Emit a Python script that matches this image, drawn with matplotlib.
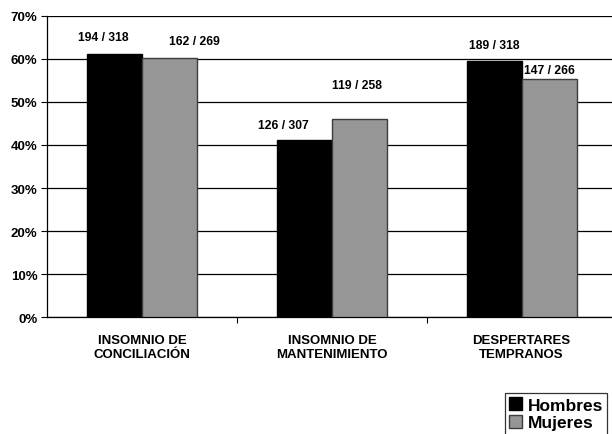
import matplotlib.pyplot as plt
import numpy as np

plt.rcParams['font.family'] = ['Liberation Sans', 'DejaVu Sans']

# Data
categories = ['INSOMNIO DE\nCONCILIACIÓN', 'INSOMNIO DE\nMANTENIMIENTO', 'DESPERTARES\nTEMPRANOS']
hombres_n = [194, 126, 189]
hombres_total = [318, 307, 318]
mujeres_n = [162, 119, 147]
mujeres_total = [269, 258, 266]
hombres_pct = [100 * n / t for n, t in zip(hombres_n, hombres_total)]
mujeres_pct = [100 * n / t for n, t in zip(mujeres_n, mujeres_total)]
yticks = [0, 10, 20, 30, 40, 50, 60, 70]

# label nudges (x in category units, y in %)
h_dx = [-0.06, -0.11, 0.0]
h_dy = [4.1, 3.7, 3.8]
m_dx = [0.13, -0.01, 0.0]
m_dy = [4.0, 7.8, 2.2]

fig = plt.figure(figsize=(6.12, 4.35), dpi=100)
fig.patch.set_facecolor('white')
ax = fig.add_axes([0.0773, 0.2683, 0.930, 0.6933])

x = np.arange(len(categories))
w = 0.29
b1 = ax.bar(x - w / 2, hombres_pct, w, color='#000000', edgecolor='#000000', linewidth=1, label='Hombres', zorder=3)
b2 = ax.bar(x + w / 2, mujeres_pct, w, color='#969696', edgecolor='#3c3c3c', linewidth=1, label='Mujeres', zorder=3)

for i in range(len(categories)):
    ax.text(x[i] - w / 2 + h_dx[i], hombres_pct[i] + h_dy[i], f'{hombres_n[i]} / {hombres_total[i]}',
            ha='center', va='center', fontsize=8.7, fontweight='bold')
    ax.text(x[i] + w / 2 + m_dx[i], mujeres_pct[i] + m_dy[i], f'{mujeres_n[i]} / {mujeres_total[i]}',
            ha='center', va='center', fontsize=8.7, fontweight='bold')

ax.set_xlim(-0.5, 2.5)
ax.set_ylim(0, 70)
ax.set_yticks(yticks)
ax.set_yticklabels([f'{t}%' for t in yticks], fontsize=9.5, fontweight='bold')
ax.yaxis.grid(True, color='#000000', linewidth=0.9, zorder=0)
ax.set_axisbelow(True)

ax.set_xticks(x)
ax.set_xticklabels(categories, fontsize=9.5, fontweight='bold', linespacing=1.2)
ax.tick_params(axis='x', length=0, pad=12)
ax.set_xticks([0.5, 1.5], minor=True)
ax.tick_params(axis='x', which='minor', length=4, direction='out', width=0.8)
ax.tick_params(axis='y', length=4, direction='out', width=0.8, pad=3)

for s in ['top', 'right']:
    ax.spines[s].set_visible(False)
ax.spines['left'].set_linewidth(0.9)
ax.spines['bottom'].set_linewidth(0.9)

# legend sits partly outside the canvas, as in the original
leg = fig.legend(handles=[b1, b2], loc='upper left', bbox_to_anchor=(0.825, 0.094),
                 frameon=True, fancybox=False, edgecolor='#000000', fontsize=12.5,
                 handlelength=0.75, handleheight=0.75, handletextpad=0.3, labelspacing=0.12,
                 borderpad=0.25, borderaxespad=0)
leg.get_frame().set_linewidth(0.9)
for t in leg.get_texts():
    t.set_fontweight('bold')

plt.savefig('out.png', dpi=100)
plt.close()
